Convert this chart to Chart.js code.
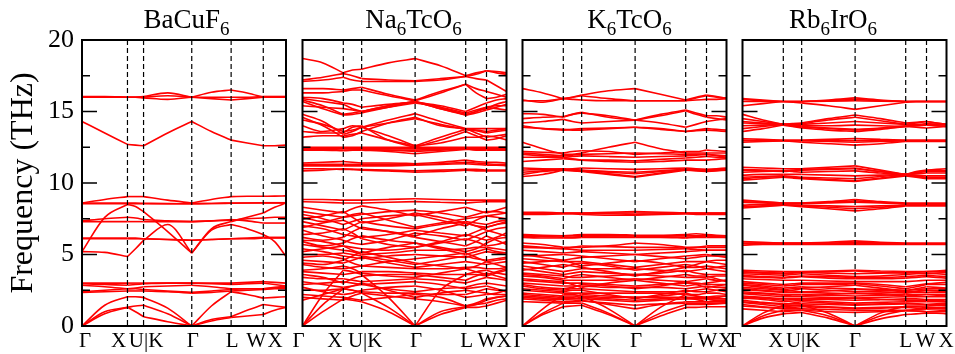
<!DOCTYPE html>
<html>
<head>
<meta charset="utf-8">
<script src="https://cdn.jsdelivr.net/npm/chart.js@4.4.1/dist/chart.umd.min.js"></script>
<style>
  body { margin: 0; background: #fff; overflow: hidden; }
  #wrap { position: relative; width: 955px; height: 354px; overflow: hidden; }
  canvas { position: absolute; top: 0; }
</style>
</head>
<body>
<div id="wrap">
  <canvas id="p1" width="300" height="354" style="left:0px"></canvas>
  <canvas id="p2" width="244" height="354" style="left:282px"></canvas>
  <canvas id="p3" width="244" height="354" style="left:502px"></canvas>
  <canvas id="p4" width="244" height="354" style="left:722px"></canvas>
</div>
<script>
// high-symmetry path
const kLabels = ["Γ", "X", "U|K", "Γ", "L", "W", "X"];
const kPathBaCuF6 = [0, 1, 1.354, 2.414, 3.280, 3.987, 4.487];
const kPathA6BO6 = [0, 0.2, 0.29, 0.552, 0.8, 0.902, 1];
const freqTicks = [0, 2.5, 5, 7.5, 10, 12.5, 15, 17.5, 20];

// each band: value at Γ, mid, X, mid, U|K, mid, Γ, mid, L, mid, W, mid, X  (THz)
const bandsBaCuF6 = [
  [16.0, 16.0, 16.0, 16.0, 16.05, 16.3, 16.0, 16.35, 16.5, 16.3, 16.0, 16.0, 16.0],
  [16.0, 16.0, 16.0, 16.0, 15.95, 15.85, 16.0, 15.9, 15.8, 15.9, 16.0, 16.0, 16.0],
  [16.05, 16.05, 16.0, 16.0, 16.0, 16.1, 16.0, 16.0, 16.0, 16.0, 16.05, 16.05, 16.05],
  [14.3, 13.5, 12.7, 12.65, 12.6, 13.5, 14.3, 13.6, 13.0, 12.8, 12.6, 12.6, 12.65],
  [8.6, 8.85, 9.05, 9.05, 9.05, 8.8, 8.6, 8.85, 9.05, 9.07, 9.07, 9.08, 9.1],
  [8.55, 8.55, 8.55, 8.55, 8.55, 8.55, 8.55, 8.57, 8.6, 8.6, 8.6, 8.6, 8.6],
  [8.6, 8.6, 8.6, 8.6, 8.58, 8.56, 8.55, 8.57, 8.58, 8.6, 8.62, 8.62, 8.62],
  [5.2, 7.6, 8.5, 8.35, 8.0, 6.6, 5.1, 6.8, 7.3, 7.6, 7.9, 8.3, 8.6],
  [5.2, 5.15, 4.86, 5.4, 6.0, 7.1, 5.1, 6.7, 7.1, 6.8, 6.4, 5.9, 4.86],
  [7.3, 7.3, 7.3, 7.3, 7.3, 7.3, 7.3, 7.35, 7.45, 7.35, 7.2, 7.2, 7.2],
  [7.35, 7.5, 7.6, 7.55, 7.45, 7.35, 7.3, 7.35, 7.4, 7.5, 7.55, 7.6, 7.6],
  [6.1, 6.1, 6.1, 6.1, 6.1, 6.05, 6.0, 6.05, 6.1, 6.15, 6.2, 6.2, 6.2],
  [6.15, 6.15, 6.15, 6.15, 6.1, 6.05, 6.0, 6.05, 6.1, 6.1, 6.15, 6.15, 6.15],
  [3.0, 3.0, 3.0, 3.0, 3.0, 3.0, 3.0, 3.0, 3.0, 3.05, 3.1, 3.05, 3.0],
  [2.95, 2.9, 2.85, 2.9, 2.95, 3.0, 3.0, 2.95, 2.9, 2.95, 3.0, 2.9, 2.8],
  [2.85, 2.75, 2.6, 2.65, 2.75, 2.8, 2.85, 2.75, 2.6, 2.6, 2.6, 2.7, 2.8],
  [2.4, 2.5, 2.6, 2.6, 2.55, 2.45, 2.35, 2.45, 2.55, 2.6, 2.6, 2.65, 2.7],
  [2.35, 2.4, 2.45, 2.45, 2.45, 2.4, 2.3, 2.35, 2.45, 2.5, 2.55, 2.6, 2.6],
  [0, 1.45, 2.05, 2.05, 2.0, 1.25, 0, 1.4, 2.4, 2.2, 1.95, 2.0, 2.05],
  [0, 1.0, 1.3, 1.4, 1.45, 0.85, 0, 0.45, 0.65, 1.1, 1.5, 1.4, 1.3],
  [0, 0.85, 1.3, 1.0, 0.65, 0.3, 0, 0.35, 0.6, 0.7, 0.8, 1.1, 1.3]
];

const bandsNa6TcO6 = [
  [18.7, 18.4, 17.7, 17.9, 17.95, 18.4, 18.7, 18.2, 17.5, 17.7, 17.85, 17.8, 17.7],
  [17.2, 17.4, 17.65, 17.5, 17.3, 17.2, 17.15, 17.3, 17.45, 17.3, 17.2, 16.8, 16.4],
  [17.1, 17.2, 17.4, 17.2, 17.1, 17.1, 17.1, 17.2, 17.45, 17.6, 17.85, 17.7, 17.6],
  [16.6, 16.6, 16.5, 16.6, 16.7, 16.2, 15.8, 16.4, 16.9, 16.6, 16.4, 16.2, 16.0],
  [16.3, 16.3, 16.4, 16.5, 16.5, 16.1, 15.75, 16.3, 16.9, 16.3, 15.9, 16.0, 16.2],
  [16.0, 15.9, 15.6, 15.5, 15.3, 15.5, 15.65, 15.4, 15.0, 15.3, 15.6, 15.8, 15.9],
  [15.9, 15.7, 15.5, 15.2, 15.0, 15.4, 15.7, 15.3, 14.75, 15.0, 15.2, 15.5, 15.7],
  [15.8, 15.4, 14.8, 14.9, 15.0, 15.4, 15.7, 15.2, 14.75, 14.9, 15.1, 15.3, 15.5],
  [15.7, 15.2, 14.75, 14.8, 14.9, 15.3, 15.7, 15.2, 14.8, 15.0, 15.3, 15.4, 15.4],
  [15.4, 15.3, 15.2, 15.1, 15.0, 15.3, 15.6, 15.3, 14.9, 15.1, 15.3, 15.2, 15.1],
  [14.8, 14.3, 13.4, 13.6, 13.9, 14.4, 14.85, 14.3, 13.8, 13.8, 13.8, 13.8, 13.8],
  [14.6, 14.0, 13.2, 13.3, 13.6, 14.2, 14.6, 14.0, 13.8, 13.5, 13.2, 13.3, 13.4],
  [14.4, 14.1, 13.6, 13.7, 13.9, 14.2, 14.5, 14.1, 13.75, 13.65, 13.5, 13.6, 13.7],
  [14.0, 13.6, 13.8, 14.0, 13.9, 13.3, 12.6, 13.2, 13.75, 13.7, 13.6, 13.7, 13.8],
  [13.6, 13.5, 13.5, 13.9, 14.0, 13.0, 12.5, 13.0, 13.6, 13.3, 13.0, 13.1, 13.3],
  [13.2, 13.3, 13.3, 13.4, 13.5, 13.0, 12.6, 12.8, 13.2, 13.2, 13.3, 13.2, 13.0],
  [12.5, 12.5, 12.5, 12.5, 12.5, 12.5, 12.5, 12.5, 12.5, 12.5, 12.5, 12.5, 12.5],
  [12.4, 12.4, 12.4, 12.4, 12.4, 12.4, 12.4, 12.4, 12.4, 12.4, 12.4, 12.4, 12.4],
  [12.35, 12.35, 12.3, 12.3, 12.3, 12.2, 12.05, 12.2, 12.35, 12.35, 12.35, 12.35, 12.35],
  [12.45, 12.45, 12.45, 12.4, 12.35, 12.3, 12.3, 12.35, 12.4, 12.45, 12.45, 12.4, 12.4],
  [12.3, 12.3, 12.25, 12.3, 12.35, 12.3, 12.2, 12.3, 12.4, 12.3, 12.3, 12.3, 12.3],
  [11.4, 11.45, 11.5, 11.45, 11.4, 11.4, 11.35, 11.45, 11.6, 11.5, 11.45, 11.45, 11.4],
  [11.3, 11.3, 11.3, 11.3, 11.3, 11.3, 11.3, 11.35, 11.45, 11.4, 11.35, 11.3, 11.3],
  [11.2, 11.2, 11.2, 11.2, 11.2, 11.2, 11.25, 11.3, 11.35, 11.3, 11.25, 11.25, 11.2],
  [11.0, 11.0, 10.95, 10.95, 10.95, 10.9, 10.85, 10.9, 10.95, 10.95, 10.9, 10.9, 10.9],
  [10.85, 10.9, 11.0, 10.95, 10.9, 10.85, 10.75, 10.8, 10.9, 10.85, 10.85, 10.85, 10.85],
  [8.85, 8.85, 8.8, 8.8, 8.8, 8.85, 8.9, 8.85, 8.8, 8.8, 8.8, 8.8, 8.8],
  [8.7, 8.65, 8.6, 8.6, 8.6, 8.65, 8.7, 8.65, 8.6, 8.65, 8.7, 8.7, 8.7],
  [8.3, 8.1, 7.9, 8.2, 8.4, 8.1, 7.7, 8.0, 8.3, 8.1, 7.9, 8.1, 8.3],
  [8.0, 7.8, 7.6, 7.7, 7.8, 8.0, 8.1, 7.9, 7.6, 7.8, 8.0, 8.0, 7.9],
  [7.8, 7.5, 7.1, 7.3, 7.5, 7.7, 7.8, 7.4, 7.0, 7.4, 7.7, 7.6, 7.5],
  [7.6, 7.3, 7.6, 7.8, 7.9, 7.4, 6.9, 7.2, 7.5, 7.6, 7.7, 7.8, 7.9],
  [7.5, 7.7, 8.0, 7.6, 7.2, 7.5, 7.9, 7.6, 7.2, 7.0, 6.9, 7.1, 7.3],
  [7.3, 7.0, 6.7, 7.0, 7.3, 7.0, 6.8, 7.1, 7.3, 7.2, 7.1, 7.3, 7.4],
  [7.0, 6.8, 6.4, 6.3, 6.2, 6.4, 6.7, 6.5, 6.3, 6.6, 6.9, 7.1, 7.2],
  [6.9, 7.2, 7.4, 7.1, 6.8, 6.6, 6.3, 6.8, 7.2, 7.0, 6.7, 6.5, 6.3],
  [6.7, 6.3, 6.0, 5.8, 5.7, 6.0, 6.5, 6.3, 6.0, 6.3, 6.6, 6.8, 6.9],
  [6.4, 6.5, 6.8, 6.5, 6.1, 5.7, 5.5, 5.9, 6.4, 6.2, 6.0, 6.2, 6.5],
  [6.2, 6.0, 6.2, 6.6, 6.9, 6.6, 6.2, 5.9, 5.6, 5.9, 6.3, 6.0, 5.7],
  [6.0, 5.9, 5.6, 5.5, 5.4, 5.3, 5.5, 5.8, 6.1, 5.9, 5.6, 5.7, 5.9],
  [5.9, 5.6, 5.8, 6.1, 6.3, 6.0, 5.8, 5.5, 5.2, 5.4, 5.8, 6.1, 6.2],
  [5.7, 5.5, 5.3, 5.2, 5.0, 5.1, 5.3, 5.3, 5.4, 5.5, 5.5, 5.4, 5.3],
  [5.4, 5.2, 4.9, 4.8, 4.7, 4.9, 5.0, 4.9, 4.8, 5.0, 5.2, 5.1, 5.0],
  [5.2, 5.4, 5.6, 5.3, 5.1, 5.5, 5.8, 5.4, 5.0, 5.2, 5.4, 5.2, 5.1],
  [5.0, 5.0, 5.1, 5.0, 4.9, 4.6, 4.3, 4.6, 4.9, 4.7, 4.6, 4.7, 4.8],
  [4.8, 4.9, 4.7, 4.4, 4.2, 4.5, 4.7, 4.9, 5.1, 4.8, 4.5, 4.6, 4.7],
  [4.6, 4.5, 4.4, 4.6, 4.8, 4.4, 4.1, 4.3, 4.5, 4.4, 4.3, 4.4, 4.5],
  [4.4, 4.3, 4.6, 4.9, 5.2, 4.8, 4.4, 4.2, 4.0, 4.2, 4.5, 4.3, 4.1],
  [4.3, 4.1, 4.0, 4.1, 4.2, 4.1, 4.0, 4.0, 4.1, 4.1, 4.0, 4.0, 4.1],
  [3.9, 4.0, 4.2, 4.0, 3.7, 3.5, 3.4, 3.7, 4.0, 3.8, 3.6, 3.8, 4.0],
  [3.8, 3.7, 3.6, 3.7, 3.8, 3.8, 3.7, 3.6, 3.6, 3.8, 3.9, 3.7, 3.6],
  [3.6, 3.4, 3.0, 3.3, 3.5, 3.6, 3.6, 3.4, 3.2, 3.5, 3.7, 3.5, 3.3],
  [3.4, 3.3, 3.3, 3.2, 3.1, 3.2, 3.3, 3.2, 3.0, 3.2, 3.4, 3.3, 3.2],
  [3.1, 2.9, 2.7, 2.8, 2.9, 3.0, 3.1, 2.9, 2.6, 2.7, 2.8, 2.6, 2.4],
  [2.9, 3.0, 3.1, 3.0, 2.9, 2.6, 2.4, 2.6, 2.7, 2.9, 3.0, 2.9, 2.8],
  [2.7, 2.4, 2.2, 2.3, 2.5, 2.7, 2.8, 2.5, 2.0, 2.1, 2.2, 2.3, 2.5],
  [2.5, 2.5, 2.6, 2.5, 2.4, 2.3, 2.3, 2.2, 2.2, 2.4, 2.6, 2.5, 2.4],
  [2.2, 2.1, 2.0, 1.9, 1.8, 2.0, 2.2, 2.0, 1.4, 1.6, 1.9, 2.0, 2.1],
  [2.0, 1.9, 1.8, 2.1, 2.3, 2.1, 1.9, 1.7, 1.4, 1.5, 1.6, 1.8, 1.9],
  [1.8, 2.2, 2.6, 2.8, 3.0, 2.5, 2.0, 2.3, 2.5, 2.4, 2.3, 2.2, 2.2],
  [0, 2.2, 3.9, 3.8, 3.6, 2.0, 0, 2.5, 3.6, 3.6, 3.5, 3.7, 3.9],
  [0, 1.5, 2.6, 2.5, 2.3, 1.3, 0, 1.0, 1.35, 1.5, 1.8, 2.0, 2.1],
  [0, 1.0, 1.9, 1.8, 1.7, 1.0, 0, 0.8, 1.3, 1.3, 1.4, 1.6, 1.8]
];

const bandsK6TcO6 = [
  [16.6, 16.3, 15.9, 16.0, 16.15, 16.45, 16.6, 16.2, 15.8, 16.0, 16.15, 16.05, 15.9],
  [15.75, 15.75, 15.9, 15.85, 15.8, 15.75, 15.75, 15.75, 15.75, 15.8, 15.85, 15.85, 15.9],
  [15.8, 15.65, 15.9, 16.0, 16.1, 15.9, 15.75, 15.75, 15.75, 15.95, 16.1, 16.0, 15.95],
  [14.85, 14.8, 14.6, 14.8, 14.95, 14.6, 14.4, 14.8, 15.1, 14.9, 14.7, 14.7, 14.6],
  [14.5, 14.6, 14.65, 14.8, 14.9, 14.7, 14.4, 14.7, 15.05, 14.8, 14.6, 14.5, 14.4],
  [14.2, 14.3, 14.45, 14.3, 14.2, 14.3, 14.4, 14.2, 13.9, 14.1, 14.3, 14.4, 14.5],
  [14.0, 13.8, 13.7, 13.75, 13.8, 13.85, 13.9, 13.8, 13.6, 13.7, 13.8, 13.75, 13.7],
  [13.9, 13.8, 13.75, 13.7, 13.7, 13.8, 13.9, 13.75, 13.6, 13.65, 13.7, 13.65, 13.6],
  [12.85, 12.4, 12.0, 12.0, 12.1, 12.5, 12.85, 12.4, 12.1, 12.1, 12.1, 12.1, 12.1],
  [12.2, 12.15, 12.1, 12.2, 12.25, 12.2, 12.0, 12.1, 12.2, 12.2, 12.3, 12.25, 12.2],
  [12.1, 12.0, 11.9, 11.95, 12.0, 12.05, 12.1, 12.05, 12.0, 12.0, 12.0, 11.95, 11.9],
  [12.0, 11.9, 11.8, 11.85, 11.9, 11.85, 11.8, 11.85, 11.9, 11.95, 12.0, 11.9, 11.8],
  [11.8, 11.8, 11.8, 11.7, 11.6, 11.6, 11.55, 11.65, 11.75, 11.8, 11.85, 11.8, 11.75],
  [11.5, 11.6, 11.7, 11.65, 11.6, 11.5, 11.45, 11.5, 11.6, 11.6, 11.6, 11.65, 11.7],
  [11.05, 11.0, 10.95, 11.0, 11.05, 11.0, 10.95, 11.0, 11.05, 11.0, 10.95, 11.0, 11.05],
  [10.9, 10.95, 11.0, 10.95, 10.9, 10.8, 10.75, 10.85, 10.95, 10.9, 10.9, 10.95, 11.0],
  [10.75, 10.85, 10.95, 10.9, 10.85, 10.75, 10.65, 10.8, 10.95, 10.9, 10.85, 10.9, 10.95],
  [10.6, 10.8, 10.95, 10.9, 10.85, 10.65, 10.45, 10.7, 10.95, 10.9, 10.85, 10.9, 10.95],
  [10.45, 10.6, 10.9, 10.85, 10.8, 10.6, 10.4, 10.65, 10.9, 10.85, 10.8, 10.85, 10.9],
  [7.95, 7.95, 7.9, 7.9, 7.9, 7.95, 8.0, 7.95, 7.9, 7.9, 7.9, 7.9, 7.9],
  [7.9, 7.9, 7.9, 7.9, 7.9, 7.9, 7.9, 7.9, 7.9, 7.9, 7.9, 7.9, 7.9],
  [7.85, 7.85, 7.85, 7.85, 7.85, 7.85, 7.8, 7.85, 7.85, 7.85, 7.85, 7.85, 7.85],
  [7.8, 7.8, 7.85, 7.85, 7.8, 7.75, 7.75, 7.8, 7.85, 7.8, 7.8, 7.8, 7.8],
  [6.4, 6.35, 6.3, 6.35, 6.4, 6.4, 6.35, 6.35, 6.4, 6.45, 6.4, 6.35, 6.3],
  [6.3, 6.3, 6.3, 6.3, 6.3, 6.3, 6.3, 6.3, 6.3, 6.3, 6.3, 6.3, 6.3],
  [6.25, 6.25, 6.2, 6.2, 6.25, 6.3, 6.3, 6.25, 6.2, 6.25, 6.3, 6.25, 6.2],
  [6.2, 6.15, 6.15, 6.15, 6.2, 6.2, 6.2, 6.2, 6.15, 6.2, 6.2, 6.2, 6.2],
  [5.8, 5.7, 5.5, 5.5, 5.5, 5.6, 5.8, 5.7, 5.5, 5.5, 5.5, 5.5, 5.5],
  [5.6, 5.5, 5.4, 5.35, 5.3, 5.3, 5.3, 5.35, 5.4, 5.35, 5.3, 5.3, 5.3],
  [5.5, 5.45, 5.4, 5.5, 5.6, 5.55, 5.5, 5.5, 5.45, 5.5, 5.6, 5.6, 5.6],
  [5.3, 5.2, 5.1, 5.15, 5.2, 5.1, 5.0, 5.1, 5.2, 5.25, 5.3, 5.3, 5.3],
  [5.0, 4.8, 4.6, 4.7, 4.8, 4.9, 5.0, 4.85, 4.7, 4.8, 4.9, 4.9, 4.9],
  [4.9, 4.95, 5.0, 4.95, 4.9, 4.7, 4.5, 4.7, 4.9, 4.95, 5.0, 4.9, 4.8],
  [4.7, 4.6, 4.5, 4.5, 4.5, 4.3, 4.1, 4.3, 4.5, 4.5, 4.5, 4.4, 4.3],
  [4.5, 4.3, 4.1, 4.3, 4.4, 4.2, 3.9, 4.1, 4.3, 4.2, 4.0, 4.1, 4.2],
  [4.4, 4.5, 4.6, 4.4, 4.2, 4.4, 4.6, 4.4, 4.1, 4.3, 4.5, 4.6, 4.6],
  [4.2, 4.0, 3.8, 3.9, 4.0, 4.0, 4.0, 3.9, 3.8, 3.9, 4.0, 3.9, 3.8],
  [4.0, 3.8, 3.6, 3.7, 3.8, 3.7, 3.6, 3.7, 3.9, 3.7, 3.6, 3.6, 3.6],
  [3.9, 4.1, 4.3, 4.2, 4.1, 3.8, 3.5, 3.8, 4.1, 4.1, 4.2, 4.1, 4.0],
  [3.7, 3.6, 3.5, 3.4, 3.4, 3.5, 3.6, 3.5, 3.4, 3.4, 3.4, 3.5, 3.5],
  [3.6, 3.5, 3.3, 3.5, 3.6, 3.4, 3.2, 3.4, 3.6, 3.5, 3.5, 3.3, 3.1],
  [3.5, 3.4, 3.2, 3.2, 3.2, 3.2, 3.3, 3.2, 3.1, 3.2, 3.3, 3.2, 3.2],
  [3.3, 3.2, 3.1, 2.9, 2.7, 3.0, 3.2, 3.0, 2.8, 2.9, 3.0, 3.1, 3.2],
  [3.2, 3.1, 3.0, 3.0, 3.0, 2.9, 2.8, 2.9, 3.0, 3.0, 2.9, 2.9, 2.9],
  [3.0, 2.9, 2.8, 2.8, 2.8, 2.7, 2.7, 2.7, 2.6, 2.7, 2.8, 2.7, 2.7],
  [2.9, 2.7, 2.6, 2.7, 2.9, 2.8, 2.6, 2.8, 3.1, 2.9, 2.7, 2.8, 2.9],
  [2.8, 2.6, 2.5, 2.6, 2.6, 2.5, 2.4, 2.4, 2.4, 2.5, 2.6, 2.5, 2.4],
  [2.6, 2.5, 2.4, 2.5, 2.5, 2.2, 1.9, 2.2, 2.5, 2.4, 2.4, 2.5, 2.6],
  [2.5, 2.4, 2.3, 2.3, 2.3, 2.3, 2.3, 2.3, 2.2, 2.2, 2.3, 2.3, 2.2],
  [2.3, 2.2, 2.1, 2.1, 2.1, 2.0, 2.0, 2.0, 2.0, 2.0, 2.0, 2.1, 2.1],
  [2.2, 2.1, 2.0, 2.0, 2.2, 2.1, 2.0, 2.1, 2.3, 2.1, 1.9, 1.8, 1.8],
  [2.1, 2.0, 1.9, 1.9, 1.9, 1.8, 1.7, 1.8, 1.9, 1.9, 1.9, 1.9, 1.9],
  [2.0, 1.9, 1.85, 1.9, 2.0, 1.9, 1.8, 1.9, 2.0, 1.85, 1.7, 1.7, 1.7],
  [1.9, 1.8, 1.7, 1.75, 1.8, 1.5, 1.2, 1.5, 1.7, 1.7, 1.7, 1.75, 1.8],
  [1.7, 1.65, 1.6, 1.7, 1.75, 1.6, 1.45, 1.55, 1.6, 1.6, 1.6, 1.6, 1.65],
  [0, 1.2, 2.2, 2.2, 2.1, 1.2, 0, 1.3, 2.2, 2.1, 2.0, 2.0, 2.1],
  [0, 0.9, 1.6, 1.6, 1.6, 0.9, 0, 0.9, 1.5, 1.5, 1.5, 1.55, 1.6],
  [0, 0.8, 1.35, 1.4, 1.45, 0.8, 0, 0.7, 1.3, 1.3, 1.35, 1.35, 1.35]
];

const bandsRb6IrO6 = [
  [15.9, 15.8, 15.7, 15.7, 15.7, 15.8, 15.95, 15.8, 15.7, 15.7, 15.7, 15.7, 15.7],
  [15.85, 15.75, 15.7, 15.7, 15.7, 15.75, 15.85, 15.75, 15.7, 15.7, 15.7, 15.7, 15.7],
  [15.7, 15.7, 15.7, 15.7, 15.7, 15.72, 15.75, 15.72, 15.7, 15.7, 15.7, 15.7, 15.7],
  [15.4, 15.55, 15.7, 15.65, 15.6, 15.4, 15.15, 15.4, 15.65, 15.7, 15.7, 15.7, 15.7],
  [14.8, 14.4, 14.1, 14.15, 14.2, 14.5, 14.75, 14.5, 14.2, 14.25, 14.3, 14.2, 14.1],
  [14.5, 14.3, 14.1, 14.1, 14.15, 14.4, 14.6, 14.35, 14.1, 14.2, 14.3, 14.2, 14.1],
  [14.3, 14.2, 14.1, 14.1, 14.1, 14.2, 14.3, 14.2, 14.1, 14.1, 14.15, 14.1, 14.05],
  [14.2, 14.15, 14.1, 14.05, 14.0, 14.0, 14.05, 14.0, 13.95, 14.0, 14.1, 14.1, 14.1],
  [14.0, 14.05, 14.1, 14.0, 13.95, 13.85, 13.75, 13.85, 14.0, 14.05, 14.1, 14.0, 13.95],
  [13.8, 13.95, 14.1, 14.0, 13.9, 13.8, 13.7, 13.8, 13.95, 14.0, 14.05, 14.0, 13.95],
  [13.6, 13.8, 14.05, 13.95, 13.85, 13.7, 13.6, 13.75, 13.95, 13.9, 13.85, 13.9, 13.95],
  [13.1, 13.05, 13.0, 13.0, 13.0, 13.05, 13.1, 13.05, 13.0, 13.0, 13.0, 13.0, 13.0],
  [13.0, 12.95, 12.95, 12.95, 12.95, 12.9, 12.85, 12.9, 12.95, 12.95, 12.95, 12.95, 12.95],
  [12.95, 12.95, 12.95, 12.95, 12.95, 12.95, 12.95, 12.95, 12.95, 12.95, 12.95, 12.95, 12.95],
  [12.85, 12.9, 12.95, 12.9, 12.85, 12.75, 12.65, 12.75, 12.9, 12.9, 12.9, 12.9, 12.9],
  [11.1, 11.05, 11.0, 11.0, 11.0, 11.1, 11.2, 10.9, 10.6, 10.8, 10.9, 10.95, 11.0],
  [10.95, 10.9, 10.85, 10.9, 10.95, 11.0, 11.05, 10.8, 10.6, 10.75, 10.85, 10.85, 10.85],
  [10.9, 10.85, 10.8, 10.85, 10.9, 10.95, 11.0, 10.8, 10.6, 10.7, 10.8, 10.8, 10.8],
  [10.75, 10.8, 10.85, 10.8, 10.75, 10.8, 10.85, 10.7, 10.6, 10.65, 10.7, 10.7, 10.7],
  [10.55, 10.6, 10.6, 10.6, 10.6, 10.55, 10.5, 10.55, 10.6, 10.55, 10.5, 10.5, 10.5],
  [10.4, 10.45, 10.5, 10.45, 10.4, 10.35, 10.3, 10.45, 10.6, 10.5, 10.4, 10.4, 10.4],
  [10.3, 10.4, 10.45, 10.4, 10.35, 10.25, 10.15, 10.35, 10.55, 10.45, 10.35, 10.35, 10.35],
  [10.2, 10.3, 10.4, 10.35, 10.3, 10.2, 10.1, 10.3, 10.5, 10.4, 10.3, 10.3, 10.3],
  [8.8, 8.7, 8.6, 8.6, 8.6, 8.7, 8.85, 8.7, 8.6, 8.6, 8.6, 8.6, 8.6],
  [8.7, 8.65, 8.6, 8.6, 8.6, 8.65, 8.75, 8.65, 8.55, 8.55, 8.55, 8.55, 8.55],
  [8.65, 8.6, 8.55, 8.55, 8.55, 8.6, 8.65, 8.6, 8.55, 8.55, 8.55, 8.55, 8.55],
  [8.45, 8.5, 8.5, 8.45, 8.45, 8.4, 8.35, 8.4, 8.45, 8.45, 8.45, 8.45, 8.45],
  [8.35, 8.4, 8.45, 8.45, 8.4, 8.3, 8.2, 8.3, 8.45, 8.45, 8.45, 8.45, 8.45],
  [8.25, 8.35, 8.45, 8.4, 8.35, 8.2, 8.05, 8.2, 8.4, 8.4, 8.4, 8.4, 8.4],
  [5.9, 5.85, 5.8, 5.8, 5.8, 5.85, 5.95, 5.85, 5.8, 5.8, 5.8, 5.8, 5.8],
  [5.8, 5.8, 5.8, 5.8, 5.8, 5.8, 5.85, 5.8, 5.75, 5.75, 5.75, 5.75, 5.75],
  [5.75, 5.75, 5.75, 5.75, 5.75, 5.75, 5.75, 5.75, 5.75, 5.75, 5.75, 5.75, 5.75],
  [5.65, 5.7, 5.7, 5.7, 5.7, 5.7, 5.7, 5.7, 5.7, 5.7, 5.7, 5.7, 5.7],
  [3.9, 3.85, 3.8, 3.8, 3.8, 3.85, 3.9, 3.85, 3.8, 3.8, 3.8, 3.85, 3.9],
  [3.8, 3.75, 3.7, 3.72, 3.75, 3.8, 3.85, 3.75, 3.7, 3.75, 3.8, 3.8, 3.8],
  [3.75, 3.7, 3.65, 3.7, 3.75, 3.7, 3.65, 3.7, 3.75, 3.7, 3.65, 3.7, 3.75],
  [3.65, 3.6, 3.55, 3.6, 3.65, 3.55, 3.45, 3.5, 3.6, 3.65, 3.7, 3.65, 3.6],
  [3.55, 3.45, 3.4, 3.45, 3.5, 3.45, 3.4, 3.4, 3.45, 3.5, 3.55, 3.5, 3.45],
  [3.45, 3.4, 3.35, 3.4, 3.45, 3.35, 3.3, 3.3, 3.35, 3.4, 3.45, 3.4, 3.35],
  [3.3, 3.25, 3.2, 3.2, 3.2, 3.15, 3.1, 3.1, 3.1, 3.15, 3.2, 3.2, 3.2],
  [3.1, 3.0, 2.9, 2.95, 3.0, 3.0, 3.0, 2.9, 2.75, 2.85, 2.95, 3.0, 3.05],
  [3.0, 2.9, 2.8, 2.85, 2.9, 2.9, 2.95, 2.8, 2.6, 2.75, 2.9, 2.9, 2.9],
  [2.9, 2.8, 2.65, 2.7, 2.75, 2.65, 2.6, 2.55, 2.5, 2.55, 2.6, 2.6, 2.6],
  [2.85, 2.7, 2.55, 2.6, 2.65, 2.75, 2.85, 2.65, 2.45, 2.6, 2.75, 2.7, 2.65],
  [2.7, 2.6, 2.5, 2.45, 2.4, 2.45, 2.55, 2.5, 2.4, 2.45, 2.5, 2.5, 2.5],
  [2.6, 2.5, 2.4, 2.5, 2.6, 2.5, 2.4, 2.4, 2.3, 2.4, 2.5, 2.45, 2.4],
  [2.55, 2.45, 2.35, 2.35, 2.35, 2.3, 2.25, 2.3, 2.35, 2.35, 2.35, 2.35, 2.35],
  [2.4, 2.3, 2.2, 2.2, 2.2, 2.15, 2.1, 2.15, 2.2, 2.2, 2.2, 2.2, 2.2],
  [2.3, 2.25, 2.15, 2.1, 2.1, 2.2, 2.3, 2.2, 2.1, 2.15, 2.2, 2.15, 2.1],
  [2.25, 2.15, 2.05, 2.05, 2.05, 2.0, 1.95, 2.0, 2.05, 2.05, 2.05, 2.05, 2.05],
  [2.1, 2.0, 1.9, 1.9, 1.9, 1.85, 1.8, 1.85, 1.9, 1.9, 1.85, 1.85, 1.85],
  [2.0, 1.95, 1.8, 1.85, 1.9, 1.9, 1.95, 1.85, 1.8, 1.8, 1.8, 1.8, 1.75],
  [1.95, 1.85, 1.7, 1.75, 1.8, 1.7, 1.6, 1.65, 1.7, 1.7, 1.7, 1.7, 1.7],
  [1.8, 1.65, 1.55, 1.55, 1.55, 1.5, 1.45, 1.5, 1.55, 1.55, 1.5, 1.5, 1.5],
  [1.7, 1.6, 1.5, 1.6, 1.7, 1.6, 1.5, 1.55, 1.6, 1.55, 1.5, 1.55, 1.6],
  [1.65, 1.5, 1.35, 1.4, 1.45, 1.35, 1.25, 1.3, 1.35, 1.35, 1.3, 1.3, 1.3],
  [1.5, 1.35, 1.2, 1.2, 1.2, 1.15, 1.1, 1.1, 1.1, 1.15, 1.2, 1.2, 1.2],
  [1.4, 1.3, 1.25, 1.3, 1.35, 1.3, 1.2, 1.25, 1.3, 1.25, 1.2, 1.25, 1.3],
  [1.2, 1.1, 1.0, 1.05, 1.1, 1.0, 0.95, 1.0, 1.05, 1.05, 1.0, 1.0, 1.0],
  [0, 0.9, 1.45, 1.45, 1.45, 0.9, 0, 0.9, 1.4, 1.4, 1.4, 1.45, 1.45],
  [0, 0.7, 1.1, 1.1, 1.1, 0.7, 0, 0.7, 1.1, 1.05, 1.0, 1.05, 1.1],
  [0, 0.55, 0.85, 0.9, 0.95, 0.55, 0, 0.5, 0.8, 0.85, 0.9, 0.9, 0.85]
];

const FONT = "'Liberation Serif', 'Times New Roman', serif";

// split each band into segments between high-symmetry points, so kinks at Γ stay sharp
function makeDatasets(bands, kpath) {
  const sets = [];
  bands.forEach(b => {
    for (let s = 0; s < kpath.length - 1; s++) {
      const x0 = kpath[s], x1 = kpath[s + 1];
      sets.push({
        data: [
          { x: x0, y: b[2 * s] },
          { x: (x0 + x1) / 2, y: b[2 * s + 1] },
          { x: x1, y: b[2 * s + 2] }
        ],
        borderColor: "#ff0000",
        borderWidth: 1.6,
        pointRadius: 0,
        fill: false,
        cubicInterpolationMode: "monotone"
      });
    }
  });
  return sets;
}

// dashed k-lines, inner tick marks, frame, k labels and the panel title
const bandDecor = {
  id: "bandDecor",
  afterDatasetsDraw(chart, args, opts) {
    const { ctx, chartArea: a, scales: { x, y } } = chart;
    ctx.save();

    ctx.strokeStyle = "#000";
    ctx.lineWidth = 1.2;
    ctx.setLineDash([5, 3]);
    opts.kpath.slice(1, -1).forEach(k => {
      const px = x.getPixelForValue(k);
      ctx.beginPath();
      ctx.moveTo(px, a.top);
      ctx.lineTo(px, a.bottom);
      ctx.stroke();
    });
    ctx.setLineDash([]);

    ctx.lineWidth = 1.5;
    freqTicks.forEach(v => {
      const py = y.getPixelForValue(v);
      const len = v % 5 === 0 ? 15 : 8;
      ctx.beginPath();
      ctx.moveTo(a.left, py); ctx.lineTo(a.left + len, py);
      ctx.moveTo(a.right, py); ctx.lineTo(a.right - len, py);
      ctx.stroke();
    });

    ctx.lineWidth = 2;
    ctx.strokeRect(a.left, a.top, a.right - a.left, a.bottom - a.top);

    ctx.fillStyle = "#000";
    ctx.textAlign = "center";
    ctx.textBaseline = "alphabetic";
    ctx.font = "21px " + FONT;
    kLabels.forEach((lab, i) => {
      ctx.fillText(lab, x.getPixelForValue(opts.kpath[i]) + opts.labelDx[i], 347);
    });

    // title with subscripts
    const parts = opts.title;
    const fontFor = p => (p.sub ? "19px " : "27px ") + FONT;
    let total = 0;
    parts.forEach(p => { ctx.font = fontFor(p); total += ctx.measureText(p.t).width; });
    let tx = (a.left + a.right) / 2 + opts.titleDx - total / 2;
    ctx.textAlign = "left";
    parts.forEach(p => {
      ctx.font = fontFor(p);
      ctx.fillText(p.t, tx, p.sub ? 35 : 28);
      tx += ctx.measureText(p.t).width;
    });

    ctx.restore();
  }
};

function makePanel(id, bands, kpath, title, titleDx, labelDx, withAxis) {
  const yAxis = {
    type: "linear", min: 0, max: 20, display: withAxis,
    grid: { display: false, drawTicks: false },
    border: { display: false },
    ticks: {
      stepSize: 2.5,
      padding: 8,
      color: "#000",
      font: { family: FONT, size: 26 },
      callback: v => (v % 5 === 0 ? v : "")
    },
    title: {
      display: true,
      text: "Frequency (THz)",
      color: "#000",
      font: { family: FONT, size: 32 },
      padding: { top: 4, bottom: 0 }
    }
  };
  if (withAxis) yAxis.afterFit = scale => { scale.width = 82; };

  new Chart(document.getElementById(id), {
    type: "line",
    data: { datasets: makeDatasets(bands, kpath) },
    plugins: [bandDecor],
    options: {
      responsive: false,
      animation: false,
      events: [],
      layout: { padding: withAxis ? { left: 0, right: 14, top: 40, bottom: 28 } : { left: 20.5, right: 19.5, top: 40, bottom: 28 } },
      plugins: {
        legend: { display: false },
        tooltip: { enabled: false },
        bandDecor: { kpath: kpath, title: title, titleDx: titleDx, labelDx: labelDx }
      },
      scales: {
        x: { type: "linear", min: 0, max: kpath[kpath.length - 1], display: false },
        y: yAxis
      }
    }
  });
}

makePanel("p1", bandsBaCuF6, kPathBaCuF6,
  [{ t: "BaCuF" }, { t: "6", sub: true }], 2.5, [3, -9, 2.5, 1, 1, -7, -11], true);
makePanel("p2", bandsNa6TcO6, kPathA6BO6,
  [{ t: "Na" }, { t: "6", sub: true }, { t: "TcO" }, { t: "6", sub: true }], 9, [-4, -8.5, 3.5, 1, 1, 1, -2.5], false);
makePanel("p3", bandsK6TcO6, kPathA6BO6,
  [{ t: "K" }, { t: "6", sub: true }, { t: "TcO" }, { t: "6", sub: true }], 5, [-3, -4, 2, 1, 1, 1, -1], false);
makePanel("p4", bandsRb6IrO6, kPathA6BO6,
  [{ t: "Rb" }, { t: "6", sub: true }, { t: "IrO" }, { t: "6", sub: true }], -11.5, [-7, -7.5, 1.5, 0, 0, -1, -0.5], false);
</script>
</body>
</html>
